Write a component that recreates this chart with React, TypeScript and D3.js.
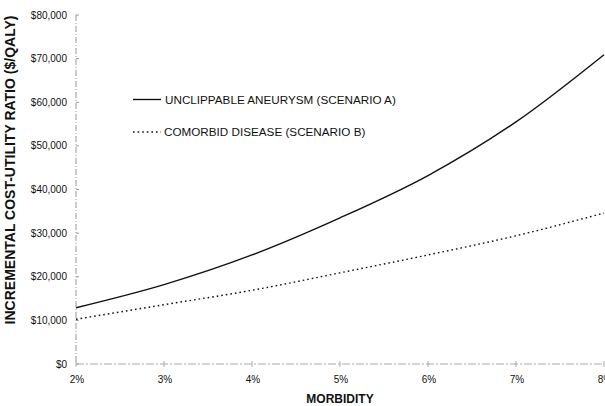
import React from "react";
import * as d3 from "d3";

const morbidity = [2, 3, 4, 5, 6, 7, 8];
const scenarioA = [12900, 18200, 25000, 33500, 43200, 55500, 70900];
const scenarioB = [10250, 13600, 16900, 20900, 25000, 29400, 34600];
const yTicks = [0, 10000, 20000, 30000, 40000, 50000, 60000, 70000, 80000];
const xTicks = [2, 3, 4, 5, 6, 7, 8];
const seriesNames = ["UNCLIPPABLE ANEURYSM (SCENARIO A)", "COMORBID DISEASE (SCENARIO B)"];

const W = 605;
const H = 406;

export default function App() {
  const x = d3.scaleLinear().domain([2, 8]).range([76, 604]);
  const y = d3.scaleLinear().domain([0, 80000]).range([364, 15]);
  const line = d3
    .line<number>()
    .x((_, i) => x(morbidity[i]))
    .y((d) => y(d))
    .curve(d3.curveMonotoneX);
  const fmt = (v: number) => "$" + d3.format(",")(v);
  const font = "'Liberation Sans', Arial, sans-serif";

  return (
    <svg
      width={W}
      height={H}
      style={{ position: "absolute", left: 0, top: 0, background: "#fff" }}
      fontFamily={font}
    >
      <rect x={0} y={0} width={W} height={H} fill="#fff" />
      {/* y axis */}
      <line x1={x(2)} x2={x(2)} y1={y(80000)} y2={y(0)} stroke="#999" strokeWidth={1} strokeDasharray="6,2,1,2" />
      {yTicks.map((t) => (
        <g key={t}>
          <line x1={x(2)} x2={x(2) + 3} y1={y(t)} y2={y(t)} stroke="#999" />
          <text x={67} y={y(t)} dy="0.35em" textAnchor="end" fontSize={10} fill="#111">
            {fmt(t)}
          </text>
        </g>
      ))}
      {/* x axis */}
      <line x1={x(2)} x2={x(8)} y1={y(0)} y2={y(0)} stroke="#aaa" strokeWidth={1} strokeDasharray="8,2,2,2" />
      {xTicks.map((t) => (
        <g key={t}>
          <line x1={x(t)} x2={x(t)} y1={y(0) - 3} y2={y(0) + 3} stroke="#aaa" />
          <text x={x(t) + 1} y={383} textAnchor="middle" fontSize={10} fill="#111">
            {t}%
          </text>
        </g>
      ))}
      {/* series */}
      <path d={line(scenarioA) || ""} fill="none" stroke="#111" strokeWidth={1.4} />
      <path d={line(scenarioB) || ""} fill="none" stroke="#111" strokeWidth={1.4} strokeDasharray="1.6,3" />
      {/* legend */}
      <line x1={133} x2={161} y1={99.5} y2={99.5} stroke="#111" strokeWidth={1.4} />
      <text x={165} y={99.5} dy="0.35em" fontSize={11.7} fill="#111">
        {seriesNames[0]}
      </text>
      <line x1={133} x2={161} y1={132} y2={132} stroke="#111" strokeWidth={1.4} strokeDasharray="1.6,3" />
      <text x={164} y={132} dy="0.35em" fontSize={11.7} fill="#111">
        {seriesNames[1]}
      </text>
      {/* axis titles */}
      <text x={340} y={403} textAnchor="middle" fontSize={12} fontWeight="bold" fill="#111">
        MORBIDITY
      </text>
      <text
        transform="translate(15,170) rotate(-90)"
        textAnchor="middle"
        fontSize={14}
        fontWeight="bold"
        fill="#111"
      >
        INCREMENTAL COST-UTILITY RATIO ($/QALY)
      </text>
    </svg>
  );
}
